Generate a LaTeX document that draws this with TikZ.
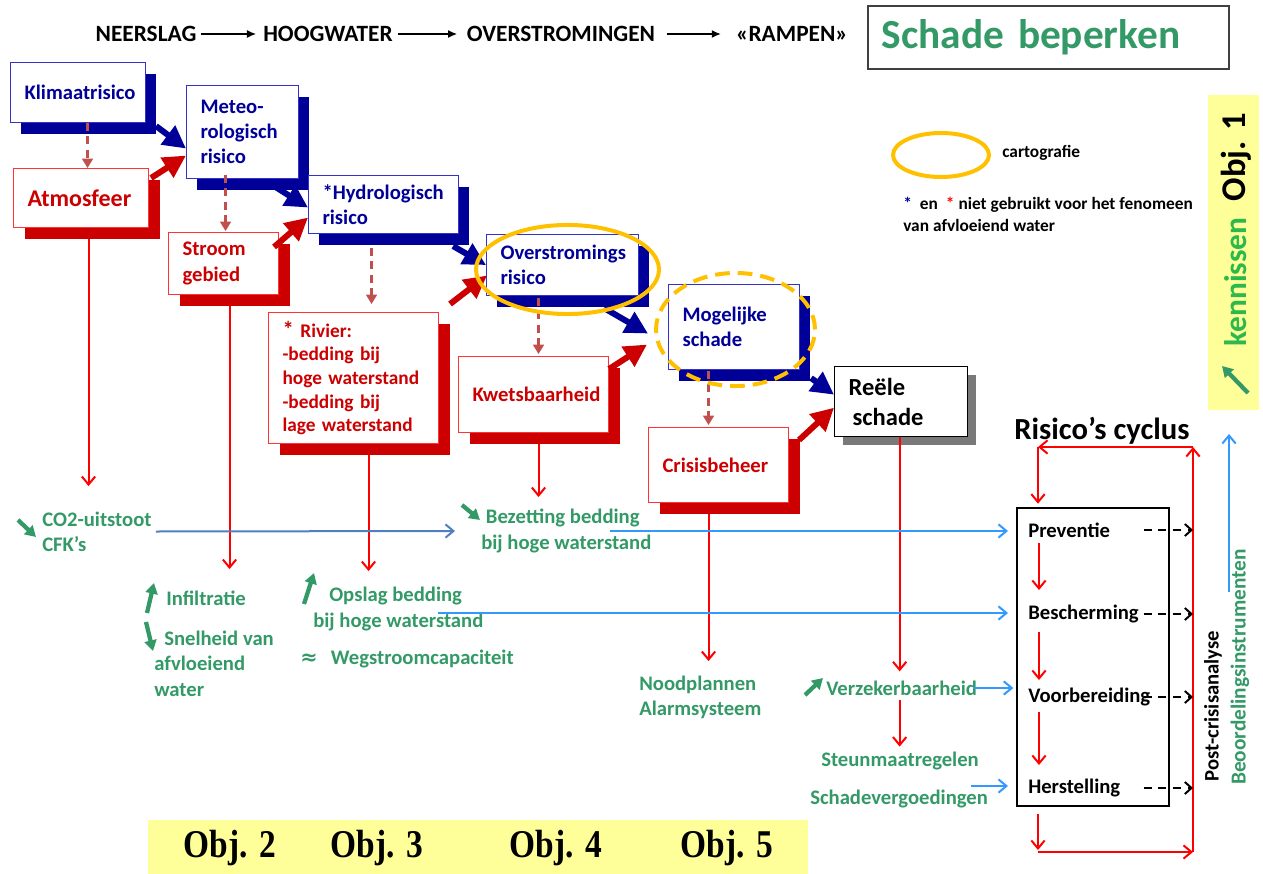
\documentclass[tikz,border=0pt]{standalone}
\usepackage{fontspec}
\setmainfont{Carlito}
\newfontfamily\objfont[FakeStretch=0.85]{Liberation Serif}
\newfontfamily\symfont{DejaVu Sans}
\usetikzlibrary{arrows.meta,shadows,calc}
\definecolor{navy}{HTML}{000099}
\definecolor{boxblue}{HTML}{3333CC}
\definecolor{dred}{HTML}{CC0000}
\definecolor{bred}{HTML}{FF3333}
\definecolor{lred}{HTML}{FF0000}
\definecolor{gtext}{HTML}{339966}
\definecolor{kgreen}{HTML}{2DB84B}
\definecolor{lblue}{HTML}{3399FF}
\definecolor{sblue}{HTML}{4F7FC0}
\definecolor{dashbrown}{HTML}{C0504D}
\definecolor{ellyellow}{HTML}{FFC000}
\definecolor{objyellow}{HTML}{FFFF99}
\newcommand{\bfs}[2]{\bfseries\fontsize{#1}{#2}\selectfont\spaceskip=0.23em plus 0.05em minus 0.03em\relax}
\tikzset{
 bbox/.style={draw=boxblue, line width=0.8pt, fill=white, text=navy, font=\bfs{15.5}{19}, align=left, anchor=north west, inner xsep=10.5pt, inner ysep=0pt, drop shadow={shadow xshift=7.5pt, shadow yshift=-8.25pt, fill=navy, opacity=1}},
 rbox/.style={draw=bred, line width=0.8pt, fill=white, text=dred, font=\bfs{15.5}{19}, align=left, anchor=north west, inner xsep=10.5pt, inner ysep=0pt, drop shadow={shadow xshift=8.25pt, shadow yshift=-8.25pt, fill=dred, opacity=1}},
 bigblue/.style={draw=navy, line width=4.5pt, -{Triangle[length=17pt,width=17pt]}},
 bigred/.style={draw=dred, line width=4.5pt, -{Triangle[length=17pt,width=17pt]}},
 dbrown/.style={draw=dashbrown, line width=1.6pt, dash pattern=on 6pt off 4pt, -{Triangle[length=7pt,width=8pt]}},
 rthin/.style={draw=lred, line width=1.5pt, -{Straight Barb[length=6pt,width=10pt]}},
 lbarrow/.style={draw=lblue, line width=1.5pt, -{Straight Barb[length=6pt,width=10pt]}},
 sbarrow/.style={draw=sblue, line width=1.5pt, -{Straight Barb[length=6pt,width=10pt]}},
 darrow/.style={draw=black, line width=1.5pt, dash pattern=on 6pt off 5pt, -{Straight Barb[length=5pt,width=9pt]}},
 garrow/.style={draw=gtext, line width=3.2pt, -{Triangle[length=8pt,width=9pt]}},
 gtxt/.style={text=gtext, font=\bfs{15.5}{19}, align=left, anchor=west, inner sep=0pt},
 ctxt/.style={text=black, font=\bfs{15.5}{19}, anchor=west, inner sep=0pt},
 toptxt/.style={text=black, font=\bfs{17.5}{20}, inner sep=0pt},
 toparrow/.style={draw=black, line width=1.5pt, -{Latex[length=7pt,width=6pt]}},
 objtxt/.style={text=black, font=\objfont\bfs{29.5}{32}, inner sep=0pt},
 ellstyle/.style={draw=ellyellow, line width=3pt},
}
\begin{document}
\begin{tikzpicture}[x=0.75pt,y=-0.75pt]
\useasboundingbox (0,0) rectangle (1263,874);

% top row
\node[toptxt] (t1) at (146,34) {NEERSLAG};
\node[toptxt] (t2) at (328,34) {HOOGWATER};
\node[toptxt] (t3) at (561,34) {OVERSTROMINGEN};
\node[toptxt] (t4) at (792,34) {«RAMPEN»};
\draw[toparrow] ([xshift=3pt]t1.east) -- ([xshift=-5pt]t2.west);
\draw[toparrow] ([xshift=4pt]t2.east) -- ([xshift=-7pt]t3.west);
\draw[toparrow] ([xshift=9pt]t3.east) -- ([xshift=-11pt]t4.west);

\node[draw=black!75, line width=1.2pt, anchor=north west, minimum height=47.25pt, text width=249.75pt, inner xsep=10.5pt, inner ysep=0pt, align=left, text=gtext, font=\bfs{31}{36}] (sb) at (867,5) {Schade beperken};

% Obj. 1 bar
\node[fill=objyellow, anchor=north west, minimum width=38.25pt, minimum height=236.25pt, inner sep=0pt] (obj1) at (1208,95) {};
\node[rotate=90, font=\bfs{26}{30}, inner sep=0pt] (o1) at (1236,157) {Obj. 1};
\node[rotate=90, font=\bfs{23.5}{28}, text=kgreen, inner sep=0pt] (ken) at (1236,282) {kennissen};
\draw[garrow] (1248,393) coordinate (k1) -- (1222,366) coordinate (k2);

% legend
\draw[ellstyle] (941,155) ellipse [x radius=36pt, y radius=16.5pt];
\node[font=\bfs{13}{16}, anchor=west, inner sep=0pt] (cart) at (1002,153) {cartografie};
\node[font=\bfs{13}{17}, anchor=west, align=left, inner sep=0pt] (leg) at (903,214.5) {{\color{navy}*}\hspace*{6pt}en\hspace*{6pt}{\color{lred}*} niet gebruikt voor het fenomeen\\van afvloeiend water};

% blue boxes
\node[bbox, text width=80.25pt, minimum height=45pt] (klim) at (10,62) {Klimaatrisico};
\node[bbox, text width=63pt, minimum height=69.75pt] (meteo) at (186,85) {Meteo-\\rologisch\\risico};
\node[bbox, text width=91.5pt, minimum height=43.5pt] (hydro) at (308,175) {*Hydrologisch\\risico};
\node[bbox, text width=93pt, minimum height=45.75pt] (overs) at (486,234) {Overstromings\\risico};
\node[bbox, text width=77.25pt, minimum height=63.75pt] (mog) at (668,284) {Mogelijke\\schade};

% red boxes
\node[rbox, text width=80.25pt, minimum height=44.25pt, font=\bfs{18}{21}] (atm) at (13,168) {Atmosfeer};
\node[rbox, text width=61.5pt, minimum height=46.5pt] (stroom) at (168,232) {Stroom\\gebied};
\node[rbox, text width=106.5pt, minimum height=98.25pt, font=\bfs{14.5}{17.8}] (rivier) at (268,312) {{\fontsize{17}{17.8}\selectfont *}\hspace*{5pt}Rivier:\\-bedding bij\\hoge waterstand\\-bedding bij\\lage waterstand};
\node[rbox, text width=91.5pt, minimum height=57pt] (kwets) at (458,356) {Kwetsbaarheid};
\node[rbox, text width=84pt, minimum height=56.25pt] (crisis) at (648,427) {Crisisbeheer};

% real damage
\node[draw=black, line width=1pt, fill=white, font=\bfs{18.4}{22.5}, align=left, anchor=north west, inner xsep=10.5pt, inner ysep=0pt, text width=78.75pt, minimum height=52.5pt, drop shadow={shadow xshift=6pt, shadow yshift=-6pt, fill=black!70, opacity=0.75}] (reele) at (834,366) {Reële\\\hspace*{3pt}schade};

% dashed links
\draw[dbrown] ($(klim.south)+(9.5,0)$) -- ++(0,45);
\draw[dbrown] ($(meteo.south)+(-17,-4)$) -- ++(0,56);
\draw[dbrown] ($(hydro.south)+(-12,14)$) -- ++(0,56);
\draw[dbrown] ($(overs.south)+(-24,2)$) -- ++(0,56);
\draw[dbrown] ($(mog.south)+(-25.5,1)$) -- ++(0,54);

% thick arrows
\draw[bigblue] ($(klim.south east)+(10,3)$) -- ($(meteo.west)+(0,16.5)$);
\draw[bigred] ($(atm.north east)+(2,10)$) -- ($(meteo.west)+(0,23.5)$);
\draw[bigblue] ($(meteo.south east)+(-25,7)$) -- ($(hydro.west)+(0,3)$);
\draw[bigred] ($(stroom.north east)+(-5,15)$) -- ($(hydro.west)+(0,13)$);
\draw[bigblue] ($(hydro.south east)+(-6,12)$) -- ($(overs.west)+(0,0)$);
\draw[bigred] ($(rivier.north east)+(11,-8)$) -- ($(overs.west)+(1,10.5)$);
\draw[bigblue] ($(overs.south east)+(-35,12)$) -- ($(mog.west)+(-20,6.5)$);
\draw[bigred] ($(kwets.north east)+(0,13)$) -- ($(mog.west)+(-21,17.5)$);
\draw[bigblue] ($(mog.south east)+(11,8)$) -- ($(reele.west)+(0,-7)$);
\draw[bigred] ($(crisis.north east)+(10,13)$) -- ($(reele.west)+(0,6)$);

% cartography ellipses
\draw[ellstyle] (567.5,269.5) ellipse [x radius=68.6pt, y radius=33.4pt];
\draw[ellstyle, dash pattern=on 11pt off 6pt] (735.5,329.5) ellipse [x radius=59.6pt, y radius=42.4pt];

% green texts
\node[gtxt] (co2) at (42,531.5) {CO2-uitstoot\\CFK's};
\node[gtxt] (bez) at (481,531) {\hspace*{3.5pt}Bezetting bedding\\bij hoge waterstand};
\node[gtxt] (infil) at (166,598) {Infiltratie};
\node[gtxt] (snel) at (154,663.5) {\hspace*{7.5pt}Snelheid van\\afvloeiend\\water};
\node[gtxt] (opslag) at (313,609) {\hspace*{12pt}Opslag bedding\\bij hoge waterstand};
\node[gtxt] (weg) at (300,659) {{\symfont ≈}\hspace*{10pt}Wegstroomcapaciteit};
\node[gtxt] (nood) at (639,697.5) {Noodplannen\\Alarmsysteem};
\node[gtxt] (verz) at (826,688) {Verzekerbaarheid};
\node[gtxt] (steun) at (821,761) {Steunmaatregelen};
\node[gtxt] (schadev) at (810,799) {Schadevergoedingen};

% green trend arrows
\draw[garrow] (18,520) -- (36,537);
\draw[garrow] (462,505) -- (480,520);
\draw[garrow] (147,613) -- (154,583);
\draw[garrow] (146,622) -- (153,651);
\draw[garrow] (304,604) -- (314,573);
\draw[garrow] (805,695) -- (823,678);

% red downward lines
\draw[rthin] ($(atm.south)+(7.5,11)$) -- ++(0,247);
\draw[rthin] ($(stroom.south)+(6,11)$) -- ++(0,263);
\draw[rthin] ($(rivier.south)+(15,11)$) -- ++(0,116);
\draw[rthin] ($(kwets.south)+(5,11)$) -- ++(0,53);
\draw[rthin] ($(crisis.south)+(-10,11)$) -- ++(0,147);
\draw[rthin] ($(reele.south)+(-1.5,0)$) -- ++(0,234);
\draw[rthin] ($(verz.south)+(-2,4)$) -- ($(verz.south)+(-2,51)$);

% risk cycle
\node[font=\bfs{23}{27}, inner sep=0pt] (rc) at (1102,431) {Risico’s cyclus};
\node[draw=black, line width=1.2pt, minimum width=114pt, minimum height=223.5pt, anchor=north west, inner sep=0pt] (cyc) at (1016,507) {};
\node[ctxt] (prev) at (1028,530) {Preventie};
\node[ctxt] (besch) at (1028,614) {Bescherming};
\node[ctxt] (voorb) at (1028,697) {Voorbereiding};
\node[ctxt] (herst) at (1028,788) {Herstelling};
\draw[rthin] ($(prev.west)+(11,13)$) -- ($(besch.west)+(11,-24)$);
\draw[rthin] ($(besch.west)+(11,18)$) -- ($(voorb.west)+(11,-17)$);
\draw[rthin] ($(voorb.west)+(11,15)$) -- ($(herst.west)+(11,-23)$);

\coordinate (lTR) at (1193,447);
\coordinate (lTL) at (1038,447);
\coordinate (lBL) at (1038,852);
\coordinate (lBR) at (1193,852);
\draw[rthin] (lBR) -- (lTR);
\draw[rthin] (lTR) -- (lTL);
\draw[rthin, shorten >=2.5pt] (lTL) -- (lTL |- cyc.north);
\draw[rthin] ($(lBL |- cyc.south)+(0,7)$) -- ($(lBL)+(0,-2)$);
\draw[rthin] (lBL) -- (lBR);

\draw[darrow] ($(cyc.east |- prev.west)+(-26,0)$) -- (lTR |- prev.west);
\draw[darrow] ($(cyc.east |- besch.west)+(-26,0)$) -- (lTR |- besch.west);
\draw[darrow] ($(cyc.east |- voorb.west)+(-26,0)$) -- (lTR |- voorb.west);
\draw[darrow] ($(cyc.east |- herst.west)+(-26,0)$) -- (lTR |- herst.west);

% blue inputs
\coordinate (b1) at (610,531);
\coordinate (b2) at (438,613);
\coordinate (b4) at (971,786);
\draw[sbarrow] ([xshift=3pt]co2.east) -- ([xshift=-19.5pt]bez.west);
\draw[lbarrow, shorten >=6pt] (b1) -- (cyc.west |- b1);
\draw[lbarrow, shorten >=6pt] (b2) -- (cyc.west |- b2);
\draw[lbarrow, shorten >=2pt] ([xshift=-3pt]verz.east) -- (cyc.west |- verz.east);
\draw[lbarrow, shorten >=6pt] (b4) -- (cyc.west |- b4);

\node[rotate=90, font=\bfs{15.5}{19}, inner sep=0pt] (pca) at (1213,706) {Post-crisisanalyse};
\node[rotate=90, font=\bfs{16}{19}, text=gtext, inner sep=0pt] (beo) at (1240,667) {Beoordelingsinstrumenten};
\coordinate (u1) at (1229,592);
\coordinate (u2) at (1229,434);
\draw[lbarrow] (u1) -- (u2);

% bottom objectives
\node[fill=objyellow, anchor=north west, minimum width=495pt, minimum height=40.5pt, inner sep=0pt] (objbar) at (148,820) {};
\node[objtxt] (o2) at (230,848) {Obj. 2};
\node[objtxt] (o3) at (377,848) {Obj. 3};
\node[objtxt] (o4) at (556,848) {Obj. 4};
\node[objtxt] (o5) at (727,848) {Obj. 5};
\end{tikzpicture}
\end{document}
